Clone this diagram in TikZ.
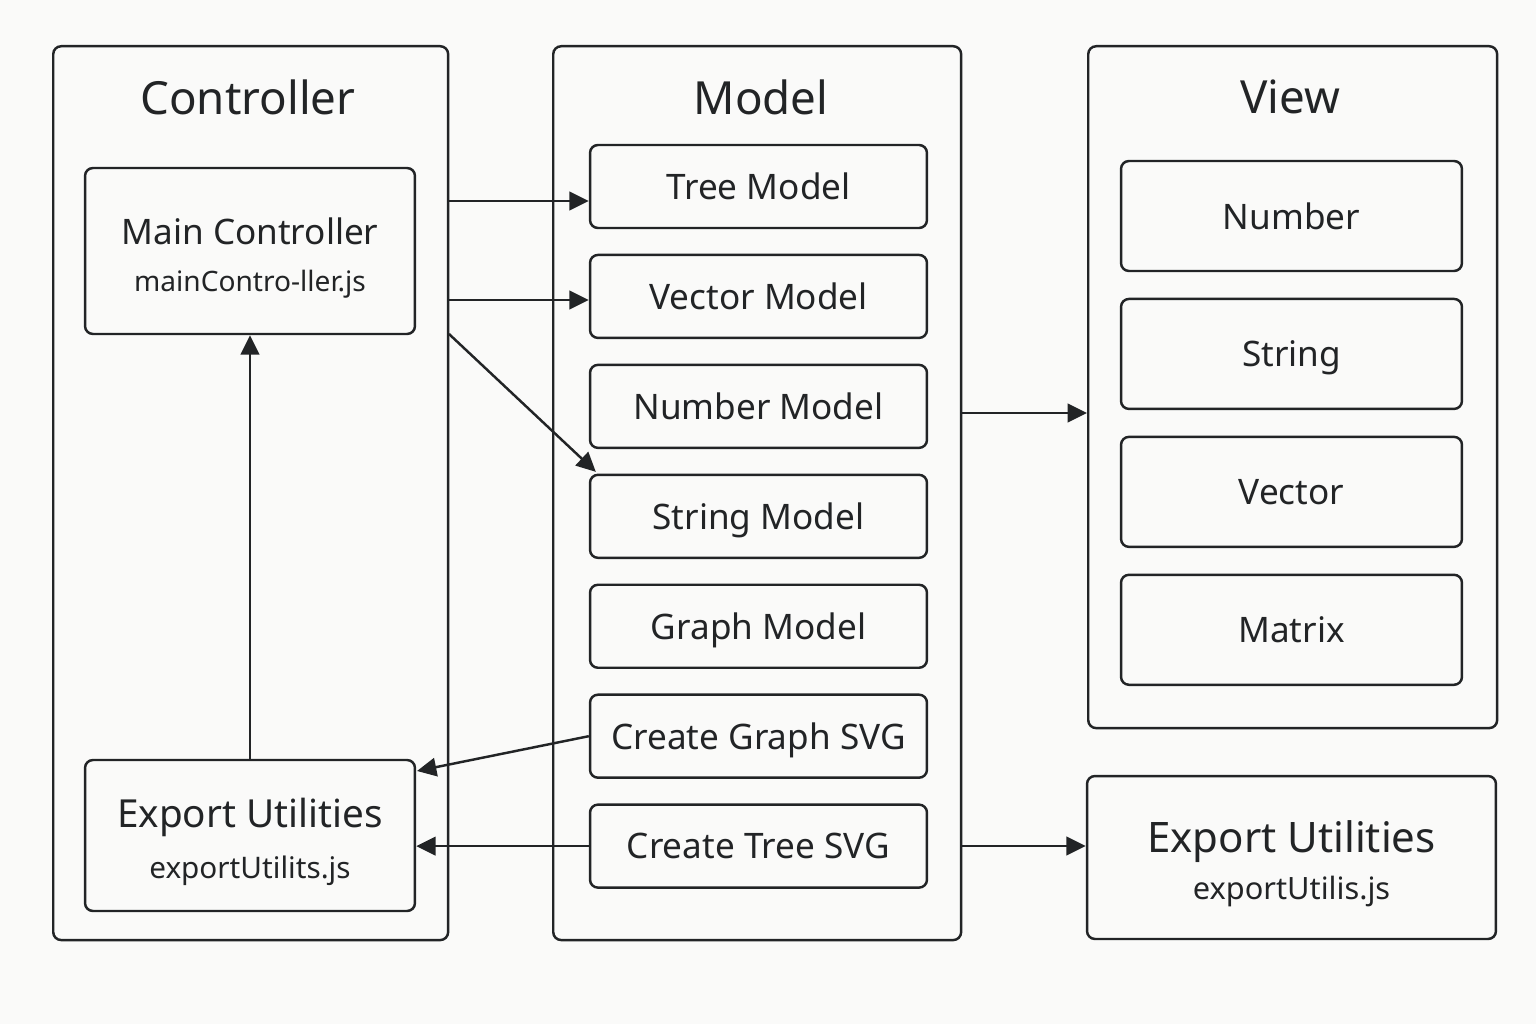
\documentclass[tikz,border=0pt]{standalone}
\usepackage{fontspec}
\setmainfont{Noto Sans}
\usetikzlibrary{arrows.meta, positioning}
\definecolor{ink}{RGB}{34,36,38}
\definecolor{paper}{RGB}{250,250,249}

\begin{document}
\begin{tikzpicture}[
    x=0.02cm, y=-0.02cm,
    line width=1.4pt,
    color=ink,
    panel/.style={draw, rounded corners=4.5pt, anchor=north west},
    title/.style={font=\fontsize{26}{30}\selectfont},
    mbox/.style={draw, rounded corners=4.5pt, minimum width=6.74cm, minimum height=1.66cm, text depth=0pt, font=\fontsize{20}{24}\selectfont},
    vbox/.style={draw, rounded corners=4.5pt, minimum width=6.82cm, minimum height=2.2cm, text depth=0pt, font=\fontsize{20}{24}\selectfont},
    cbox/.style={draw, rounded corners=4.5pt, minimum width=6.6cm, align=center, font=\fontsize{20}{27}\selectfont},
    arr/.style={-{Triangle[length=11pt, width=10.5pt]}}
]

\fill[paper] (0,0) rectangle (1536,1024);

% panels
\node[panel, minimum width=7.9cm, minimum height=17.88cm] (ctrl) at (52,45) {};
\node[panel, minimum width=8.16cm, minimum height=17.88cm] (model) at (552,45) {};
\node[panel, minimum width=8.18cm, minimum height=13.64cm] (view) at (1087,45) {};

\node[title] (ctrlt) at (248,97) {Controller};
\node[title] (modelt) at (761,97) {Model};
\node[title] (viewt) at (1290,97) {View};

% controller
\node[cbox, minimum height=3.32cm] (mainc) at (250,251)
    {\rule{0pt}{23pt}Main Controller\\{\fontsize{16}{20}\selectfont mainContro-ller.js}};
\node[cbox, minimum height=3.02cm, font=\fontsize{22}{29}\selectfont] (expl) at (250,835.5)
    {\rule{0pt}{24.5pt}Export Utilities\\{\fontsize{16.9}{20}\selectfont exportUtilits.js}};

% model
\node[mbox] (tree) at (758.5,186.5) {Tree Model};
\node[mbox, below=0.49cm of tree] (vector) {Vector Model};
\node[mbox, below=0.49cm of vector] (number) {Number Model};
\node[mbox, below=0.49cm of number] (string) {String Model};
\node[mbox, below=0.49cm of string] (graph) {Graph Model};
\node[mbox, below=0.49cm of graph] (graphsvg) {Create Graph SVG};
\node[mbox, below=0.49cm of graphsvg] (treesvg) {Create Tree SVG};

% view
\node[vbox] (vnum) at (1291.5,216) {Number};
\node[vbox, below=0.51cm of vnum] (vstr) {String};
\node[vbox, below=0.51cm of vstr] (vvec) {Vector};
\node[vbox, below=0.51cm of vvec] (vmat) {Matrix};

\node[cbox, minimum width=8.18cm, minimum height=3.26cm, font=\fontsize{23.9}{27}\selectfont] (expr) at (1291.5,857.5)
    {\rule{0pt}{25pt}Export Utilities\\{\fontsize{17.5}{20}\selectfont exportUtilis.js}};

% connectors
\coordinate (c1) at (449,201);
\coordinate (c2) at (449,300);
\coordinate (c3) at (449,334);
\coordinate (m1) at (961,413);
\coordinate (m2) at (961,846);
\coordinate (e1) at (417,771);

\draw[arr] (c1) -- (c1 -| tree.west);
\draw[arr] (c2) -- (c2 -| vector.west);
\draw[arr] (c3) -- ([xshift=4pt,yshift=1pt]string.north west);
\draw[arr] (m1) -- (m1 -| view.west);
\draw[arr] (m2) -- (m2 -| expr.west);
\draw[arr] (graphsvg.west) -- (e1);
\draw[arr] (treesvg.west) -- (treesvg.west -| expl.east);
\draw[arr] (expl.north) -- (mainc.south);

\end{tikzpicture}
\end{document}
